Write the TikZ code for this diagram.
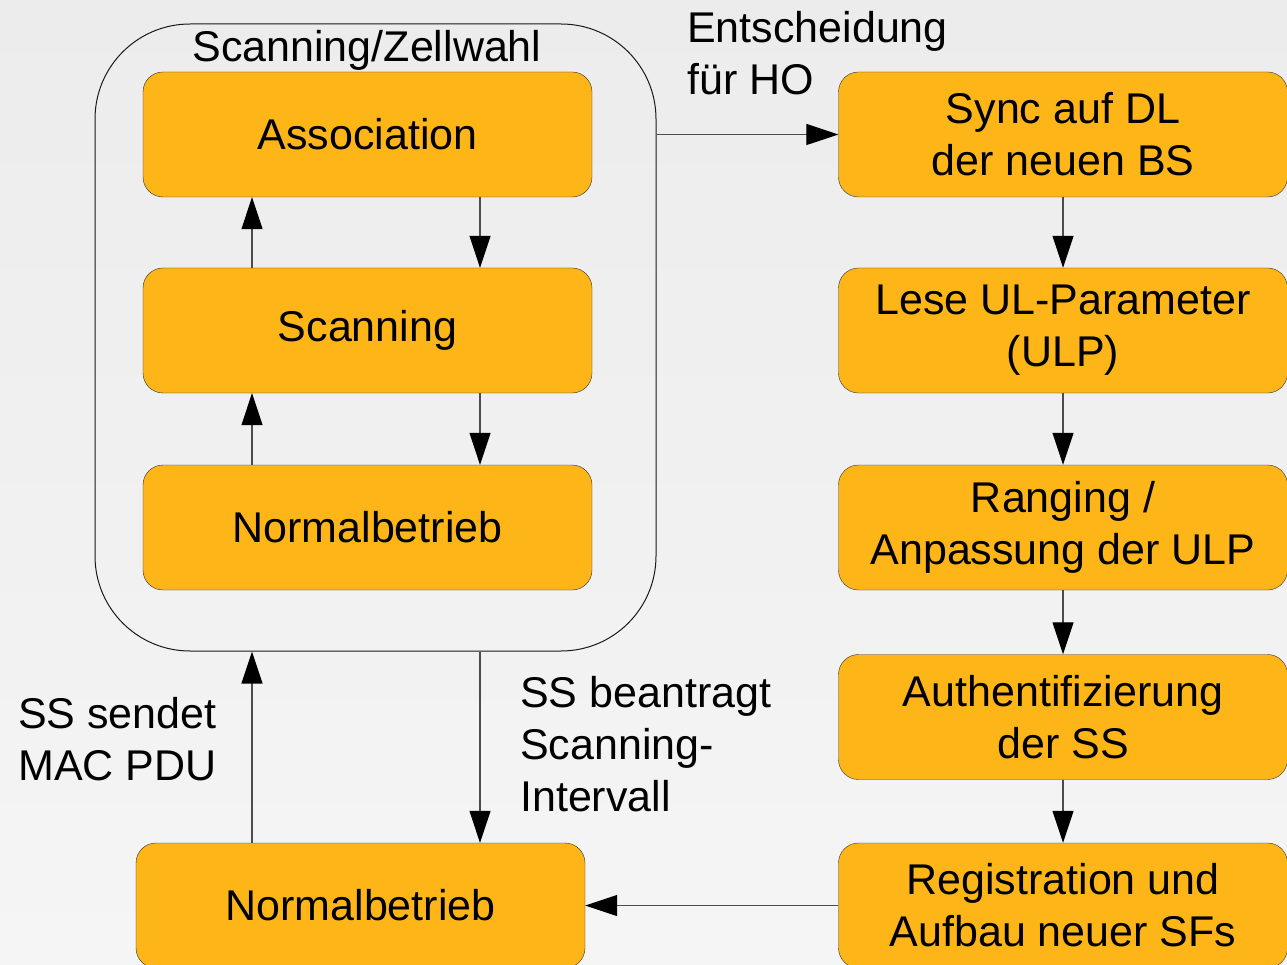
\documentclass[tikz,border=0pt]{standalone}
\usepackage{fontspec}
\setmainfont{Liberation Sans}
\usetikzlibrary{arrows.meta}
\definecolor{boxorange}{RGB}{253,181,24}

\begin{document}
\begin{tikzpicture}[x=1pt,y=-1pt,
		box/.style={draw=black!80, fill=boxorange, rounded corners=20pt, minimum width=449pt,
			minimum height=125pt, inner sep=0pt, align=center, font=\fontsize{43}{52}\selectfont},
		lbl/.style={inner sep=0pt, align=left, font=\fontsize{43}{52}\selectfont},
		arr/.style={draw=black!70, line width=1.1pt, -{Triangle[length=32pt,width=21pt,color=black]}}]
		\clip (0,0) rectangle (1287,965);
		\shade[top color={rgb,255:red,236;green,236;blue,236}, middle color={rgb,255:red,226;green,226;blue,226},
			bottom color={rgb,255:red,245;green,245;blue,245}] (0,0) rectangle (1287,965);
		\node[draw=black!90, line width=1pt, rounded corners=95pt, minimum width=561pt, minimum height=627pt] (zell) at (375.5,337.5) {};
		\node[lbl, anchor=base] (zelltxt) at (367,62) {Scanning/Zellwahl};
		\node[box] (assoc) at (367.5,134.5) {Association};
		\node[box] (scan) at (367.5,330.5) {Scanning};
		\node[box] (normA) at (367.5,527.5) {Normalbetrieb};
		\node[box] (normB) at (360.5,905.5) {Normalbetrieb};
		\node[box] (sync) at (1063,134.5) {Sync auf DL\\der neuen BS};
		\node[box] (lese) at (1063,330.5) {Lese UL-Parameter\\(ULP)};
		\node[box] (rang) at (1063,527.5) {Ranging /\\Anpassung der ULP};
		\node[box] (auth) at (1063,717) {Authentifizierung\\der SS};
		\node[box] (reg) at (1063,905.5) {Registration und\\Aufbau neuer SFs};
		\coordinate (upx) at (252,0);
		\coordinate (dnx) at (480,0);
		\draw[arr] (scan.north -| upx) -- (assoc.south -| upx);
		\draw[arr] (normA.north -| upx) -- (scan.south -| upx);
		\draw[arr] (assoc.south -| dnx) -- (scan.north -| dnx);
		\draw[arr] (scan.south -| dnx) -- (normA.north -| dnx);
		\draw[arr] (sync.west -| zell.east) -- (sync.west);
		\draw[arr] (sync) -- (lese);
		\draw[arr] (lese) -- (rang);
		\draw[arr] (rang) -- (auth);
		\draw[arr] (auth) -- (reg);
		\draw[arr] (reg) -- (normB);
		\draw[arr] (normB.north -| upx) -- (zell.south -| upx);
		\draw[arr] (zell.south -| dnx) -- (normB.north -| dnx);
		\node[lbl, anchor=north west] (hotxt) at (687,11) {Entscheidung\\für HO};
		\node[lbl, anchor=north west] (sendtxt) at (18,697) {SS sendet\\MAC PDU};
		\node[lbl, anchor=north west] (antrtxt) at (520,676) {SS beantragt\\Scanning-\\Intervall};
\end{tikzpicture}
\end{document}
